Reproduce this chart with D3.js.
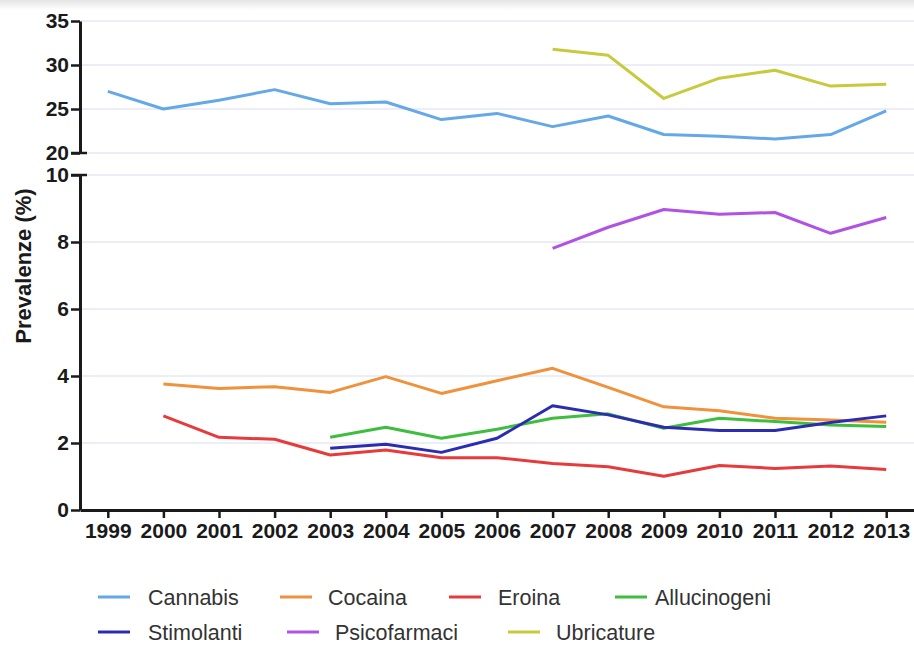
<!DOCTYPE html>
<html>
<head>
<meta charset="utf-8">
<script src="https://cdn.jsdelivr.net/npm/d3@7"></script>
<style>
  html, body { margin: 0; padding: 0; background: #ffffff; }
  svg { display: block; }
</style>
</head>
<body>
<svg id="chart" width="914" height="645"></svg>
<script>
// ---------------- DATA ----------------
const years = [1999, 2000, 2001, 2002, 2003, 2004, 2005, 2006, 2007, 2008, 2009, 2010, 2011, 2012, 2013];
const cannabis     = [27.0, 25.0, 26.0, 27.2, 25.6, 25.8, 23.8, 24.5, 23.0, 24.2, 22.1, 21.9, 21.6, 22.1, 24.8];
const cocaina      = [null, 3.76, 3.63, 3.68, 3.51, 3.98, 3.48, 3.86, 4.23, 3.66, 3.08, 2.96, 2.74, 2.69, 2.62];
const eroina       = [null, 2.81, 2.17, 2.11, 1.64, 1.79, 1.56, 1.56, 1.39, 1.29, 1.01, 1.33, 1.24, 1.31, 1.21];
const allucinogeni = [null, null, null, null, 2.17, 2.47, 2.14, 2.41, 2.74, 2.87, 2.44, 2.74, 2.64, 2.54, 2.49];
const stimolanti   = [null, null, null, null, 1.84, 1.96, 1.72, 2.14, 3.11, 2.84, 2.47, 2.37, 2.37, 2.61, 2.81];
const psicofarmaci = [null, null, null, null, null, null, null, null, 7.81, 8.44, 8.97, 8.83, 8.88, 8.26, 8.73];
const ubricature   = [null, null, null, null, null, null, null, null, 31.8, 31.1, 26.2, 28.5, 29.4, 27.6, 27.8];

const seriesNames = ["Cannabis", "Cocaina", "Eroina", "Allucinogeni", "Stimolanti", "Psicofarmaci", "Ubricature"];
const topTicks = [20, 25, 30, 35];
const bottomTicks = [0, 2, 4, 6, 8, 10];
const yLabel = "Prevalenze (%)";

// ---------------- STYLE / LAYOUT ----------------
const colors = {
  Cannabis: "#64a8e8",
  Cocaina: "#f0913b",
  Eroina: "#e63b3c",
  Allucinogeni: "#3ebd3e",
  Stimolanti: "#2c2cb0",
  Psicofarmaci: "#b052e2",
  Ubricature: "#c6ca3c"
};
const valuesBySeries = {
  Cannabis: cannabis, Cocaina: cocaina, Eroina: eroina, Allucinogeni: allucinogeni,
  Stimolanti: stimolanti, Psicofarmaci: psicofarmaci, Ubricature: ubricature
};
const panelOf = {
  Cannabis: "top", Ubricature: "top",
  Cocaina: "bottom", Eroina: "bottom", Allucinogeni: "bottom", Stimolanti: "bottom", Psicofarmaci: "bottom"
};
const drawOrder = ["Cannabis", "Ubricature", "Psicofarmaci", "Cocaina", "Eroina", "Allucinogeni", "Stimolanti"];

const svg = d3.select("#chart");
const FONT = "'Liberation Sans', Arial, Helvetica, sans-serif";

const xLeft = 80, xRight = 914;
const x = d3.scaleLinear().domain([1998.5, 2013.5]).range([xLeft, xRight]);
const yTop = d3.scaleLinear().domain([20, 35]).range([153, 21]);
const yBot = d3.scaleLinear().domain([0, 10]).range([510, 175]);

// subtle top shading (screenshot border)
const defs = svg.append("defs");
const grad = defs.append("linearGradient").attr("id", "topShade").attr("x1", 0).attr("y1", 0).attr("x2", 0).attr("y2", 1);
grad.append("stop").attr("offset", "0%").attr("stop-color", "#e4e4e4");
grad.append("stop").attr("offset", "100%").attr("stop-color", "#ffffff");
svg.append("rect").attr("x", 0).attr("y", 0).attr("width", 914).attr("height", 10).attr("fill", "url(#topShade)");

// grid lines
const grid = svg.append("g").attr("stroke", "#e6e7f3").attr("stroke-width", 1.5);
topTicks.forEach(t => grid.append("line").attr("x1", xLeft).attr("x2", xRight).attr("y1", yTop(t)).attr("y2", yTop(t)));
bottomTicks.filter(t => t > 0).forEach(t => grid.append("line").attr("x1", xLeft).attr("x2", xRight).attr("y1", yBot(t)).attr("y2", yBot(t)));

// axes
const axisStyle = g => {
  g.select(".domain").attr("stroke", "#1a1a1a").attr("stroke-width", 3);
  g.selectAll(".tick line").attr("stroke", "#1a1a1a").attr("stroke-width", 2.5);
  g.selectAll(".tick text").attr("fill", "#1a1a1a").attr("font-family", FONT).attr("font-weight", "bold").attr("font-size", "21px");
};

svg.append("g").attr("transform", `translate(${xLeft},0)`)
  .call(d3.axisLeft(yTop).tickValues(topTicks).tickSize(9).tickSizeOuter(0).tickPadding(2))
  .call(axisStyle);
svg.append("g").attr("transform", `translate(${xLeft},0)`)
  .call(d3.axisLeft(yBot).tickValues(bottomTicks).tickSize(9).tickSizeOuter(0).tickPadding(2))
  .call(axisStyle);

// break marks
[yTop(20), yBot(10)].forEach(yy => {
  svg.append("line").attr("x1", xLeft - 9).attr("x2", xLeft + 7).attr("y1", yy).attr("y2", yy)
    .attr("stroke", "#1a1a1a").attr("stroke-width", 2.5);
});

svg.append("g").attr("transform", `translate(0,${yBot(0)})`)
  .call(d3.axisBottom(x).tickValues(years).tickFormat(d3.format("d")).tickSize(8).tickSizeOuter(0).tickPadding(5))
  .call(axisStyle);

// y label
svg.append("text")
  .attr("transform", `translate(31,266) rotate(-90)`)
  .attr("text-anchor", "middle")
  .attr("font-family", FONT).attr("font-weight", "bold").attr("font-size", "22px")
  .attr("fill", "#1a1a1a")
  .text(yLabel);

// lines
drawOrder.forEach(name => {
  const ys = panelOf[name] === "top" ? yTop : yBot;
  const vals = valuesBySeries[name];
  const pts = years.map((yr, i) => ({ yr, v: vals[i] }));
  const line = d3.line().defined(d => d.v != null).x(d => x(d.yr)).y(d => ys(d.v));
  svg.append("path").datum(pts)
    .attr("fill", "none")
    .attr("stroke", colors[name])
    .attr("stroke-width", 3)
    .attr("stroke-linejoin", "round")
    .attr("d", line);
});

// legend
const legendLayout = [
  { lx: 98, tx: 148, y: 597 }, { lx: 280, tx: 328, y: 597 }, { lx: 449, tx: 498, y: 597 }, { lx: 615, tx: 655, y: 597 },
  { lx: 98, tx: 148, y: 632 }, { lx: 287, tx: 335, y: 632 }, { lx: 508, tx: 556, y: 632 }
];
const legend = svg.append("g");
seriesNames.forEach((name, i) => {
  const L = legendLayout[i];
  legend.append("line").attr("x1", L.lx).attr("x2", L.lx + 32).attr("y1", L.y).attr("y2", L.y)
    .attr("stroke", colors[name]).attr("stroke-width", 3);
  legend.append("text").attr("x", L.tx).attr("y", L.y).attr("dy", "0.35em")
    .attr("font-family", FONT).attr("font-size", "21.5px").attr("fill", "#333")
    .text(name);
});
</script>
</body>
</html>
